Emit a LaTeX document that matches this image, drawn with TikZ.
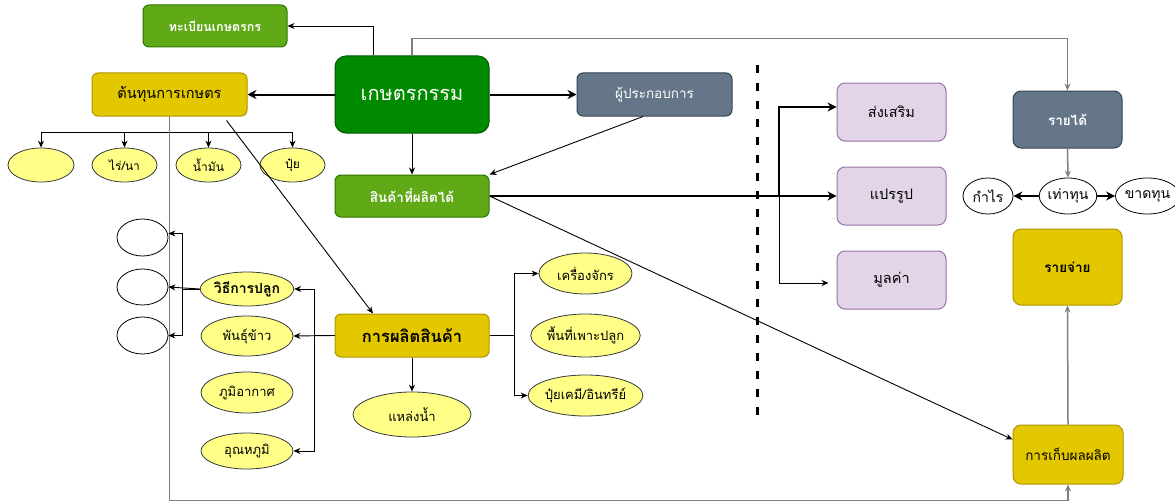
\documentclass[tikz,border=0pt]{standalone}
\usepackage{fontspec}
\setmainfont[Script=Thai]{Loma}
\usetikzlibrary{arrows.meta,shapes.geometric}
\definecolor{gfill}{HTML}{60A917}
\definecolor{gline}{HTML}{2D7600}
\definecolor{dgfill}{HTML}{008A00}
\definecolor{dgline}{HTML}{005700}
\definecolor{yfill}{HTML}{E3C800}
\definecolor{yline}{HTML}{B09500}
\definecolor{sfill}{HTML}{647687}
\definecolor{sline}{HTML}{314354}
\definecolor{pfill}{HTML}{E1D5E7}
\definecolor{pline}{HTML}{9673A6}
\definecolor{efill}{HTML}{FFFF88}
\definecolor{eline}{HTML}{36393D}
\definecolor{lgray}{HTML}{7F7F7F}
\tikzset{
  box/.style={rectangle, rounded corners=6pt, line width=1pt, align=center, inner sep=2pt},
  greenbox/.style={box, fill=gfill, draw=gline, text=white, font=\bfseries\fontsize{12.5}{14}\selectfont},
  yellowbox/.style={box, fill=yfill, draw=yline, text=black},
  slatebox/.style={box, fill=sfill, draw=sline, text=white},
  purplebox/.style={box, fill=pfill, draw=pline, text=black, minimum width=109pt, minimum height=58pt, rounded corners=8pt, font=\fontsize{14.5}{16}\selectfont},
  yell/.style={ellipse, fill=efill, draw=eline, line width=0.8pt, inner sep=0pt, font=\fontsize{13}{15}\selectfont},
  well/.style={ellipse, fill=white, draw=black, line width=0.8pt, inner sep=0pt, font=\fontsize{14}{16}\selectfont},
  conn/.style={draw=black, line width=0.9pt, -{Stealth[length=7pt,width=6pt]}},
  thickconn/.style={draw=black, line width=2pt, -{Stealth[length=9pt,width=9pt]}},
  grayconn/.style={draw=lgray, line width=1.5pt, -{Stealth[length=7pt,width=6pt]}},
}
\begin{document}
\begin{tikzpicture}[x=1pt,y=-1pt]
\useasboundingbox (0,0) rectangle (1175,503);
% main boxes
\node[greenbox, minimum width=144pt, minimum height=42pt] (reg) at (215,26) {ทะเบียนเกษตรกร};
\node[yellowbox, minimum width=155pt, minimum height=43pt, font=\fontsize{14.5}{16}\selectfont] (cost) at (169.5,94.5) {ต้นทุนการเกษตร};
\node[box, fill=dgfill, draw=dgline, text=white, rounded corners=11pt, minimum width=154pt, minimum height=77pt, font=\fontsize{20}{22}\selectfont] (agri) at (412,94.5) {เกษตรกรรม};
\node[slatebox, minimum width=155pt, minimum height=43pt, font=\fontsize{13.5}{15}\selectfont] (oper) at (654.5,94.5) {ผู้ประกอบการ};
\node[greenbox, minimum width=154pt, minimum height=42pt, font=\bfseries\fontsize{13.5}{15}\selectfont] (prod) at (412,196) {สินค้าที่ผลิตได้};
\node[yellowbox, minimum width=154pt, minimum height=43pt, font=\bfseries\fontsize{16.5}{18}\selectfont] (make) at (412,335.5) {การผลิตสินค้า};
% production ellipses
\node[yell, minimum width=118pt, minimum height=45pt] (water) at (412,414.5) {แหล่งน้ำ};
\node[yell, minimum width=93pt, minimum height=41pt] (mach) at (585.5,273.5) {เครื่องจักร};
\node[yell, minimum width=93pt, minimum height=43pt] (area) at (585.5,335.5) {พื้นที่เพาะปลูก};
\node[yell, minimum width=93pt, minimum height=41pt] (fert2) at (585.5,395.5) {ปุ๋ยเคมี/อินทรีย์};
% cost ellipses
\node[yell, minimum width=66pt, minimum height=34pt] (e0) at (41,165) {};
\node[yell, minimum width=65pt, minimum height=34pt, font=\fontsize{12}{14}\selectfont] (rice) at (124.5,165) {ไร่/นา};
\node[yell, minimum width=65pt, minimum height=34pt, font=\fontsize{12}{14}\selectfont] (oil) at (208.5,165) {น้ำมัน};
\node[yell, minimum width=65pt, minimum height=34pt, font=\fontsize{12}{14}\selectfont] (fert) at (292.5,165) {ปุ๋ย};
% left column
\node[yell, minimum width=92pt, minimum height=34pt, font=\bfseries\fontsize{14}{16}\selectfont] (method) at (247,289) {วิธีการปลูก};
\node[yell, minimum width=92pt, minimum height=40pt] (seed) at (247,336) {พันธุ์ข้าว};
\node[yell, minimum width=92pt, minimum height=41pt] (climate) at (247,392.5) {ภูมิอากาศ};
\node[yell, minimum width=92pt, minimum height=36pt] (temp) at (247,451) {อุณหภูมิ};
\node[well, minimum width=51pt, minimum height=37pt] (wa) at (142.5,237.5) {};
\node[well, minimum width=51pt, minimum height=36pt] (wb) at (142.5,287) {};
\node[well, minimum width=51pt, minimum height=37pt] (wc) at (142.5,335.5) {};
% right side
\node[purplebox] (promo) at (891.5,112) {ส่งเสริม};
\node[purplebox] (proc) at (891.5,196) {แปรรูป};
\node[purplebox] (value) at (891.5,280) {มูลค่า};
\node[slatebox, rounded corners=8pt, minimum width=109pt, minimum height=57pt, font=\bfseries\fontsize{13.5}{15}\selectfont] (income) at (1067.5,119.5) {รายได้};
\node[well, minimum width=50pt, minimum height=36pt] (profit) at (988,196) {กำไร};
\node[well, minimum width=50pt, minimum height=36pt] (even) at (1068,196) {เท่าทุน};
\node[well, minimum width=51pt, minimum height=36pt] (loss) at (1147.5,196) {ขาดทุน};
\node[yellowbox, rounded corners=8pt, minimum width=109pt, minimum height=76pt, font=\bfseries\fontsize{13.5}{15}\selectfont] (expense) at (1067.5,267) {รายจ่าย};
\node[yellowbox, rounded corners=8pt, minimum width=110pt, minimum height=59pt, font=\fontsize{13.5}{15}\selectfont] (harvest) at (1068,454.5) {การเก็บผลผลิต};
% dashed separator
\coordinate (dtop) at (757,65);
\coordinate (dbot) at (757,417);
\draw[line width=3pt, dash pattern=on 8pt off 10pt] (dtop) -- (dbot);
% connectors from agri
\draw[conn] ([xshift=-39pt]agri.north) |- (reg.east);
\draw[grayconn] (agri.north) -- ++(0,-17) -| (income.north);
\draw[thickconn] (agri.west) -- (cost.east);
\draw[thickconn] (agri.east) -- (oper.west);
\draw[conn] (agri.south) -- (prod.north);
\draw[conn] ([xshift=-11.5pt]oper.south) -- (prod.north east);
% product outputs
\draw[thickconn] (prod.east) -- (proc.west);
\coordinate (br) at (779,196);
\draw[thickconn] (br) |- ([yshift=5pt]promo.west);
\draw[conn, shorten >=8pt] (br) |- ([yshift=-3pt]value.west);
\draw[conn] (prod.east) -- ([yshift=15pt]harvest.west);
% cost connectors
\draw[conn] (cost.south) -- ++(0,16) -| (e0.north);
\draw[conn] (cost.south) -- ++(0,16) -| (rice.north);
\draw[conn] (cost.south) -- ++(0,16) -| (oil.north);
\draw[conn] (cost.south) -- ++(0,16) -| (fert.north);
\draw[grayconn] (cost.south) -- ++(0,384) -| (harvest.south);
\draw[conn] ([xshift=57pt,yshift=-4pt]cost.south) -- ([xshift=-39pt]make.north);
% production connectors
\draw[conn] (make.west) -- (seed.east);
\draw[conn] (make.west) -- ++(-20,0) |- (method.east);
\draw[conn] (make.west) -- ++(-20,0) |- (temp.east);
\draw[conn] (make.south) -- (water.north);
\draw[conn] (make.east) -- ++(25,0) |- (mach.west);
\draw[conn] (make.east) -- ++(25,0) |- (fert2.west);
% method connectors
\draw[conn] (method.west) -- (wb.east);
\draw[conn] (method.west) -- ++(-17,0) |- ([yshift=4pt]wa.east);
\draw[conn] (method.west) -- ++(-17,0) |- (wc.east);
% finance connectors
\draw[grayconn] (income.south) -- (even.north);
\draw[thickconn] (even.west) -- (profit.east);
\draw[thickconn] (even.east) -- (loss.west);
\draw[grayconn] (harvest.north) -- (expense.south);
\end{tikzpicture}
\end{document}
